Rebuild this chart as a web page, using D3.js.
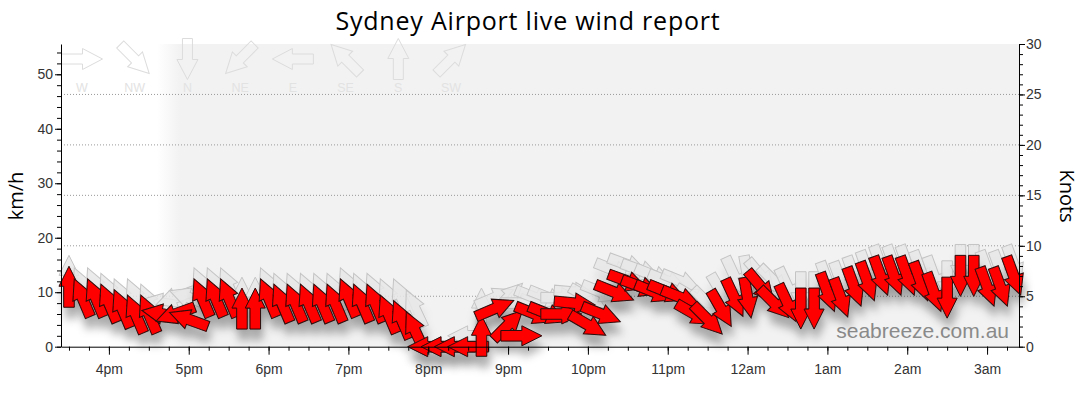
<!DOCTYPE html>
<html><head><meta charset="utf-8">
<script src="https://cdn.jsdelivr.net/npm/d3@7"></script>
<style>
html,body{margin:0;padding:0;background:#fff;}
svg{display:block;}
</style></head>
<body>
<svg id="chart" width="1080" height="414"></svg>
<script>
// ---- data (wind km/h, gust km/h, direction wind comes FROM in degrees) ----
const times = ["15:30","15:40","15:50","16:00","16:10","16:20","16:30","16:40","16:50","17:00",
"17:10","17:20","17:30","17:40","17:50","18:00","18:10","18:20","18:30","18:40","18:50",
"19:00","19:10","19:20","19:30","19:40","19:50","20:00","20:10","20:20","20:30","20:40","20:50",
"21:00","21:10","21:20","21:30","21:40","21:50","22:00","22:10","22:20","22:30","22:40","22:50",
"23:00","23:10","23:20","23:30","23:40","23:50","00:00","00:10","00:20","00:30","00:40","00:50",
"01:00","01:10","01:20","01:30","01:40","01:50","02:00","02:10","02:20","02:30","02:40","02:50",
"03:00","03:10","03:20"];
const windKmh = [11,9,9,8,7,6,6,6,6,5,
9,9,9,7,7,9,8,8,8,8,8,
9,8,8,6,5,3,0,0,0,0,2,7,
4,2,6,6,6,8,4,6,10,12,11,10,
10,9,6,5,7,9,9,11,8,8,7,7,
10,9,11,12,13,13,13,12,10,9,13,13,
11,11,13];
const gustKmh = [13,11,11,10,9,9,8,8,9,9,
11,11,11,9,9,11,10,10,10,10,10,
11,10,10,9,9,7,0,0,0,2,7,9,
9,8,9,9,9,10,9,10,14,15,14,13,
12,12,9,8,10,13,13,13,12,11,10,10,
12,12,13,14,15,15,15,14,13,12,15,15,
14,14,15];
const dirFrom = [180,157,157,157,157,157,157,100,70,110,
157,157,157,180,180,157,157,157,157,157,157,
157,157,157,157,157,155,90,90,90,90,180,247,
225,270,292,292,270,275,300,292,292,290,290,292,
292,292,300,315,330,335,350,320,315,335,0,0,
340,340,340,340,340,340,340,340,340,0,0,0,
340,340,340];
const legendLabels = ["W","NW","N","NE","E","SE","S","SW"];
const legendFrom = [270,315,0,45,90,135,180,225];
const kmhTicks = [0,10,20,30,40,50];
const knotTicks = [0,5,10,15,20,25,30];
const gridKnots = [5,10,15,20,25];

// ---- layout ----
const W = 1080, H = 414;
const L = 61, R = 1019, T = 44, B = 346.7;
const svg = d3.select("#chart");
const base = new Date(2024,0,1);
function parseT(s){
  const [h,m] = s.split(":").map(Number);
  const d = new Date(base); d.setHours(h,m,0,0);
  if (h < 12) d.setDate(d.getDate()+1);
  return d;
}
const t0 = new Date(2024,0,1,15,24), t1 = new Date(2024,0,2,3,24);
const x = d3.scaleTime().domain([t0,t1]).range([L,R]);
const yKnots = d3.scaleLinear().domain([0,30]).range([B,T]);
const yKmh = d3.scaleLinear().domain([0,30*1.852]).range([B,T]);

const data = times.map((t,i)=>({t:parseT(t), w:windKmh[i], g:gustKmh[i], d:dirFrom[i]}));

// ---- defs ----
const defs = svg.append("defs");
const grad = defs.append("linearGradient").attr("id","bg").attr("gradientUnits","userSpaceOnUse")
  .attr("x1",L).attr("x2",R).attr("y1",0).attr("y2",0);
const gx1 = (157-L)/(R-L), gx2 = (180-L)/(R-L);
grad.append("stop").attr("offset",0).attr("stop-color","#ffffff");
grad.append("stop").attr("offset",gx1).attr("stop-color","#ffffff");
grad.append("stop").attr("offset",gx2).attr("stop-color","#f2f2f2");
grad.append("stop").attr("offset",1).attr("stop-color","#f2f2f2");
const f = defs.append("filter").attr("id","shadow").attr("x","-10%").attr("y","-30%").attr("width","120%").attr("height","180%");
f.append("feDropShadow").attr("dx",2).attr("dy",11).attr("stdDeviation",4.5)
  .attr("flood-color","#000").attr("flood-opacity",0.3);
const f2 = defs.append("filter").attr("id","shadow2").attr("x","-10%").attr("y","-30%").attr("width","120%").attr("height","180%");
f2.append("feDropShadow").attr("dx",2).attr("dy",11).attr("stdDeviation",4.5)
  .attr("flood-color","#000").attr("flood-opacity",0.1);

// ---- background ----
svg.append("rect").attr("x",L).attr("y",T).attr("width",R-L).attr("height",B-T).attr("fill","url(#bg)");

// grid
svg.append("g").selectAll("line").data(gridKnots).join("line")
  .attr("x1",L).attr("x2",R).attr("y1",d=>yKnots(d)).attr("y2",d=>yKnots(d))
  .attr("stroke","#999").attr("stroke-width",1).attr("stroke-dasharray","1,2");

// ---- title ----
svg.append("text").attr("x",528).attr("y",30).attr("text-anchor","middle")
  .attr("font-family","'Open Sans', 'Noto Sans', sans-serif").attr("font-size",25)
  .attr("letter-spacing",0.8).attr("fill","#000")
  .text("Sydney Airport live wind report");

// ---- legend compass ----
function arrowPath(len, headLen, headHalf, shaftHalf){
  const h = len/2;
  return `M0,${-h} L${headHalf},${-h+headLen} L${shaftHalf},${-h+headLen} L${shaftHalf},${h} L${-shaftHalf},${h} L${-shaftHalf},${-h+headLen} L${-headHalf},${-h+headLen} Z`;
}
const legX = d3.scalePoint().domain(legendLabels).range([82,451]);
const leg = svg.append("g");
legendLabels.forEach((lab,i)=>{
  leg.append("path").attr("d",arrowPath(41,20,10.5,5))
    .attr("transform",`translate(${legX(lab)},59) rotate(${legendFrom[i]+180})`)
    .attr("fill","none").attr("stroke","#dcdcdc").attr("stroke-width",1);
  leg.append("text").attr("x",legX(lab)).attr("y",91.5).attr("text-anchor","middle")
    .attr("font-family","'Liberation Sans', Arial, sans-serif").attr("font-size",12.5).attr("fill","#e2e2e2").text(lab);
});

// ---- watermark ----
svg.append("text").attr("x",1009).attr("y",338).attr("text-anchor","end")
  .attr("font-family","'Liberation Sans', Arial, sans-serif").attr("font-size",21).attr("fill","#8a8a8a")
  .text("seabreeze.com.au");

// ---- arrows ----
const dataArrow = arrowPath(41,20,10,5.3);
svg.append("g").attr("filter","url(#shadow2)").selectAll("path").data(data).join("path")
  .attr("d",dataArrow)
  .attr("transform",d=>`translate(${x(d.t)},${yKmh(d.g)}) rotate(${d.d+180})`)
  .attr("fill","rgba(232,232,232,0.85)").attr("stroke","#c4c4c4").attr("stroke-width",1);
svg.append("g").attr("filter","url(#shadow)").selectAll("path").data(data).join("path")
  .attr("d",dataArrow)
  .attr("transform",d=>`translate(${x(d.t)},${yKmh(d.w)}) rotate(${d.d+180})`)
  .attr("fill","#ff0000").attr("stroke","#2a0a0a").attr("stroke-width",1);

// ---- axes ----
const fontAx = "'Liberation Sans', Arial, sans-serif";
function styleAxis(g){
  g.selectAll("text").attr("font-family",fontAx).attr("font-size",14).attr("fill","#333");
  g.selectAll("line,path").attr("stroke","#000");
}
// left
svg.append("g").attr("transform",`translate(${L},0)`)
  .call(d3.axisLeft(yKmh).tickValues(d3.range(0,56,2)).tickSize(4).tickFormat("").tickSizeOuter(0))
  .call(styleAxis);
svg.append("g").attr("transform",`translate(${L},0)`)
  .call(d3.axisLeft(yKmh).tickValues(kmhTicks).tickSize(6).tickPadding(2).tickSizeOuter(0))
  .call(styleAxis).call(g=>g.select(".domain").remove());
// right
svg.append("g").attr("transform",`translate(${R},0)`)
  .call(d3.axisRight(yKnots).tickValues(d3.range(0,31,1)).tickSize(4).tickFormat("").tickSizeOuter(0))
  .call(styleAxis);
svg.append("g").attr("transform",`translate(${R},0)`)
  .call(d3.axisRight(yKnots).tickValues(knotTicks).tickSize(6).tickPadding(1).tickSizeOuter(0))
  .call(styleAxis).call(g=>g.select(".domain").remove());
// bottom
const fmt = d => d3.timeFormat("%-I%p")(d).toLowerCase();
svg.append("g").attr("transform",`translate(0,${B})`)
  .call(d3.axisBottom(x).ticks(d3.timeMinute.every(15)).tickSize(4).tickFormat("").tickSizeOuter(0))
  .call(styleAxis);
svg.append("g").attr("transform",`translate(0,${B})`)
  .call(d3.axisBottom(x).ticks(d3.timeHour.every(1)).tickSize(8).tickPadding(9).tickFormat(fmt).tickSizeOuter(0))
  .call(styleAxis).call(g=>g.select(".domain").remove());

// axis titles
svg.append("text").attr("transform","translate(23,196) rotate(-90)").attr("text-anchor","middle")
  .attr("font-family","'Open Sans', 'Noto Sans', sans-serif").attr("font-size",20).attr("fill","#000").text("km/h");
svg.append("text").attr("transform","translate(1060,196) rotate(90)").attr("text-anchor","middle")
  .attr("font-family","'Open Sans', 'Noto Sans', sans-serif").attr("font-size",20).attr("fill","#000").text("Knots");
</script>
</body></html>
